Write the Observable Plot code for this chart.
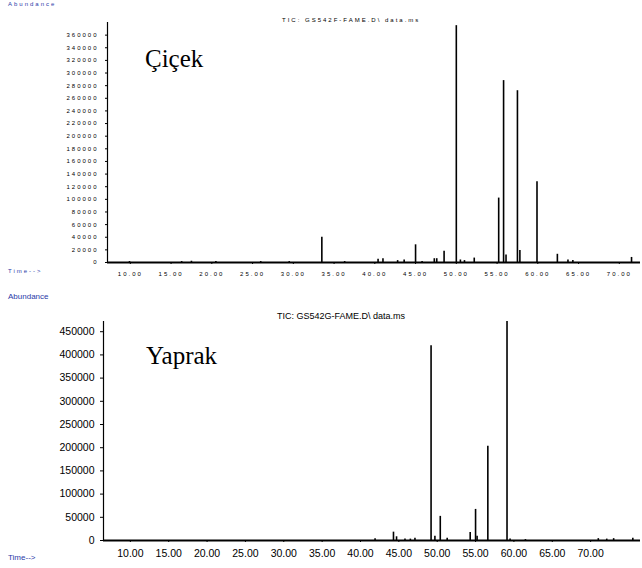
<!DOCTYPE html>
<html><head><meta charset="utf-8">
<script src="https://cdn.jsdelivr.net/npm/d3@7"></script>
<script src="https://cdn.jsdelivr.net/npm/@observablehq/plot@0.6"></script>
<style>
body{margin:0;background:#fff;font-family:"Liberation Sans",Arial,sans-serif;}
#wrap{position:relative;width:642px;height:568px;overflow:hidden}
.abs{position:absolute}
.serif{font-family:"Liberation Serif","DejaVu Serif","Times New Roman",serif;font-size:25px}
</style></head><body><div id="wrap"></div>
<script>
// Çiçek (flower) peaks: retention time (min), abundance
const flowerTime = [9.9,16.3,17.5,20.5,26.0,29.5,33.5,36.3,40.4,43.6,41.0,42.8,45.0,45.8,47.3,47.6,48.5,50.0,50.5,51.0,52.2,55.2,55.8,56.1,57.5,57.8,59.9,62.4,63.7,64.3,71.5];
const flowerAbund = [1500,1500,2000,1500,1500,1500,40000,1500,5000,4000,6000,3000,28000,1500,6000,6000,18000,375000,4000,3000,7000,102000,288000,12000,272000,19000,128000,13000,4000,3000,8000];
// Yaprak (leaf) peaks
const leafTime = [41.9,44.3,44.7,45.8,46.5,47.1,49.2,49.7,50.4,51.3,54.3,55.0,55.2,56.6,59.1,59.5,61.5,71.0,72.1,73.0,75.5];
const leafAbund = [4000,18000,8000,3000,3000,5000,420000,9000,52000,5000,17000,67000,9000,203000,472000,3000,2000,4000,3000,4000,5000];
const flowerTicksY = d3.range(0,360001,20000);
const leafTicksY = d3.range(0,450001,50000);
const timeTicks = d3.range(10,71,5);

const wrap = document.getElementById("wrap");
function place(el, x, y){el.classList.add("abs");el.style.left=x+"px";el.style.top=y+"px";wrap.appendChild(el);return el;}
function txt(s, x, y, style, cls){const d=document.createElement("div");d.textContent=s;d.style.cssText=style;if(cls)d.className=cls;return place(d,x,y);}

const chartTop = Plot.plot({
  width:642, height:280, marginLeft:107, marginRight:2, marginTop:22, marginBottom:18,
  style:{fontFamily:"Liberation Sans, Arial", fontSize:"6px", letterSpacing:"2px", background:"transparent"},
  x:{domain:[7.2,72.6], ticks:timeTicks, tickFormat:d=>d.toFixed(2), label:null, tickSize:2},
  y:{domain:[0,380000], ticks:flowerTicksY, tickFormat:d=>String(d), label:null, tickSize:2},
  marks:[
    Plot.ruleX(flowerTime,{x:d=>d, y1:0, y2:(d,i)=>flowerAbund[i], stroke:"black", strokeWidth:1.6}),
    Plot.ruleY([0],{stroke:"black",strokeWidth:2}),
    Plot.ruleX([7.2],{stroke:"black",strokeWidth:1.2})
  ]
});
place(chartTop,0,0);

const chartBot = Plot.plot({
  width:642, height:288, marginLeft:103, marginRight:2, marginTop:41, marginBottom:28,
  style:{fontFamily:"Liberation Sans, Arial", fontSize:"10.5px", background:"transparent"},
  x:{domain:[6.5,76.5], ticks:timeTicks, tickFormat:d=>d.toFixed(2), label:null, tickSize:2},
  y:{domain:[0,472000], ticks:leafTicksY, tickFormat:d=>String(d), label:null, tickSize:3},
  marks:[
    Plot.ruleX(leafTime,{x:d=>d, y1:0, y2:(d,i)=>leafAbund[i], stroke:"black", strokeWidth:1.6}),
    Plot.ruleY([0],{stroke:"black",strokeWidth:2}),
    Plot.ruleX([6.5],{stroke:"black",strokeWidth:1.2})
  ]
});
place(chartBot,0,280);

txt("Abundance",8,1,"font-size:6px;letter-spacing:2px;color:#2a3aa8");
txt("TIC: GS542F-FAME.D\\ data.ms",282,17,"font-size:6px;letter-spacing:2px");
txt("Time-->",8,268,"font-size:6px;letter-spacing:2px;color:#2a3aa8");
txt("Çiçek",145,45,"","serif");

txt("Abundance",8,292,"font-size:8px;color:#2a3aa8");
txt("TIC: GS542G-FAME.D\\ data.ms",277,311,"font-size:9px");
txt("Time-->",8,553,"font-size:8px;color:#2a3aa8");
txt("Yaprak",146,342,"","serif");
</script></body></html>
